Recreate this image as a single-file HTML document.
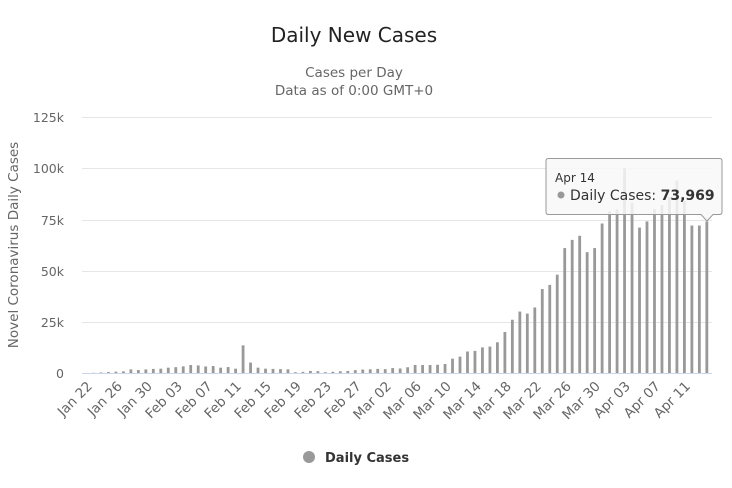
<!DOCTYPE html><html><head><meta charset="utf-8"><style>body{margin:0;background:#fff}svg{display:block;font-family:"DejaVu Sans","Liberation Sans",sans-serif}</style></head><body>
<svg width="732" height="488" viewBox="0 0 732 488">
<text x="354" y="42" text-anchor="middle" font-size="20" fill="#222">Daily New Cases</text>
<text x="354" y="77" text-anchor="middle" font-size="13.5" fill="#666">Cases per Day</text>
<text x="354" y="95" text-anchor="middle" font-size="13.5" fill="#666">Data as of 0:00 GMT+0</text>
<g stroke="#e6e6e6" stroke-width="1">
<line x1="82" x2="712" y1="117.5" y2="117.5"/><line x1="82" x2="712" y1="168.5" y2="168.5"/><line x1="82" x2="712" y1="220.5" y2="220.5"/><line x1="82" x2="712" y1="271.5" y2="271.5"/><line x1="82" x2="712" y1="322.5" y2="322.5"/></g>
<line x1="82" x2="712" y1="373.5" y2="373.5" stroke="#ccd6eb"/>
<g font-size="12.5" fill="#666" text-anchor="end">
<text x="64" y="122">125k</text><text x="64" y="173">100k</text><text x="64" y="225">75k</text><text x="64" y="276">50k</text><text x="64" y="327">25k</text><text x="64" y="378">0</text></g>
<text transform="translate(18,245) rotate(-90)" text-anchor="middle" font-size="13.5" fill="#666">Novel Coronavirus Daily Cases</text>
<g transform="translate(86,373) scale(1,-2.048)" fill="#999">
<rect x="-1.4" width="2.8" height="0"/><rect x="6.08" width="2.8" height="0.1"/><rect x="13.56" width="2.8" height="0.25"/><rect x="21.04" width="2.8" height="0.45"/><rect x="28.52" width="2.8" height="0.65"/><rect x="36" width="2.8" height="0.8"/><rect x="43.48" width="2.8" height="1.75"/><rect x="50.96" width="2.8" height="1.45"/><rect x="58.44" width="2.8" height="1.75"/><rect x="65.92" width="2.8" height="2.0"/><rect x="73.4" width="2.8" height="2.1"/><rect x="80.88" width="2.8" height="2.6"/><rect x="88.36" width="2.8" height="2.85"/><rect x="95.84" width="2.8" height="3.25"/><rect x="103.32" width="2.8" height="3.9"/><rect x="110.8" width="2.8" height="3.7"/><rect x="118.28" width="2.8" height="3.2"/><rect x="125.76" width="2.8" height="3.4"/><rect x="133.24" width="2.8" height="2.6"/><rect x="140.72" width="2.8" height="2.9"/><rect x="148.2" width="2.8" height="2.1"/><rect x="155.68" width="2.8" height="13.5"/><rect x="163.16" width="2.8" height="5.1"/><rect x="170.64" width="2.8" height="2.6"/><rect x="178.12" width="2.8" height="2.1"/><rect x="185.6" width="2.8" height="2.0"/><rect x="193.08" width="2.8" height="1.9"/><rect x="200.56" width="2.8" height="1.8"/><rect x="208.04" width="2.8" height="0.4"/><rect x="215.52" width="2.8" height="0.55"/><rect x="223" width="2.8" height="1.0"/><rect x="230.48" width="2.8" height="0.9"/><rect x="237.96" width="2.8" height="0.4"/><rect x="245.44" width="2.8" height="0.6"/><rect x="252.92" width="2.8" height="0.85"/><rect x="260.4" width="2.8" height="1.0"/><rect x="267.88" width="2.8" height="1.4"/><rect x="275.36" width="2.8" height="1.7"/><rect x="282.84" width="2.8" height="1.8"/><rect x="290.32" width="2.8" height="2.0"/><rect x="297.8" width="2.8" height="1.9"/><rect x="305.28" width="2.8" height="2.4"/><rect x="312.76" width="2.8" height="2.2"/><rect x="320.24" width="2.8" height="2.8"/><rect x="327.72" width="2.8" height="3.9"/><rect x="335.2" width="2.8" height="3.9"/><rect x="342.68" width="2.8" height="3.9"/><rect x="350.16" width="2.8" height="4.0"/><rect x="357.64" width="2.8" height="4.4"/><rect x="365.12" width="2.8" height="7.0"/><rect x="372.6" width="2.8" height="8.0"/><rect x="380.08" width="2.8" height="10.5"/><rect x="387.56" width="2.8" height="10.8"/><rect x="395.04" width="2.8" height="12.5"/><rect x="402.52" width="2.8" height="12.9"/><rect x="410" width="2.8" height="15"/><rect x="417.48" width="2.8" height="20"/><rect x="424.96" width="2.8" height="26"/><rect x="432.44" width="2.8" height="30"/><rect x="439.92" width="2.8" height="29"/><rect x="447.4" width="2.8" height="32"/><rect x="454.88" width="2.8" height="41"/><rect x="462.36" width="2.8" height="43"/><rect x="469.84" width="2.8" height="48"/><rect x="477.32" width="2.8" height="61"/><rect x="484.8" width="2.8" height="65"/><rect x="492.28" width="2.8" height="67"/><rect x="499.76" width="2.8" height="59"/><rect x="507.24" width="2.8" height="61"/><rect x="514.72" width="2.8" height="73"/><rect x="522.2" width="2.8" height="79"/><rect x="529.68" width="2.8" height="80"/><rect x="537.16" width="2.8" height="100"/><rect x="544.64" width="2.8" height="83"/><rect x="552.12" width="2.8" height="71"/><rect x="559.6" width="2.8" height="74"/><rect x="567.08" width="2.8" height="80"/><rect x="574.56" width="2.8" height="82"/><rect x="582.04" width="2.8" height="86"/><rect x="589.52" width="2.8" height="94"/><rect x="597" width="2.8" height="84"/><rect x="604.48" width="2.8" height="72"/><rect x="611.96" width="2.8" height="72"/><rect x="619.44" width="2.8" height="74"/>
</g>
<g font-size="13.5" fill="#666" text-anchor="end">
<text transform="translate(93,387) rotate(-45)">Jan 22</text><text transform="translate(123,387) rotate(-45)">Jan 26</text><text transform="translate(153,387) rotate(-45)">Jan 30</text><text transform="translate(183,387) rotate(-45)">Feb 03</text><text transform="translate(213,387) rotate(-45)">Feb 07</text><text transform="translate(242,387) rotate(-45)">Feb 11</text><text transform="translate(272,387) rotate(-45)">Feb 15</text><text transform="translate(302,387) rotate(-45)">Feb 19</text><text transform="translate(332,387) rotate(-45)">Feb 23</text><text transform="translate(362,387) rotate(-45)">Feb 27</text><text transform="translate(392,387) rotate(-45)">Mar 02</text><text transform="translate(422,387) rotate(-45)">Mar 06</text><text transform="translate(452,387) rotate(-45)">Mar 10</text><text transform="translate(482,387) rotate(-45)">Mar 14</text><text transform="translate(512,387) rotate(-45)">Mar 18</text><text transform="translate(542,387) rotate(-45)">Mar 22</text><text transform="translate(572,387) rotate(-45)">Mar 26</text><text transform="translate(601,387) rotate(-45)">Mar 30</text><text transform="translate(631,387) rotate(-45)">Apr 03</text><text transform="translate(661,387) rotate(-45)">Apr 07</text><text transform="translate(691,387) rotate(-45)">Apr 11</text>
</g>
<path d="M548.5,158.5 H719.5 Q722,158.5 722,161 V212 Q722,214.5 719.5,214.5 H713 L707,221 L701,214.5 H548.5 Q546,214.5 546,212 V161 Q546,158.5 548.5,158.5 Z" fill="rgba(248,248,248,0.85)" stroke="#999" stroke-width="1"/>
<text x="555" y="182" font-size="12" fill="#333">Apr 14</text>
<circle cx="561" cy="195" r="3.5" fill="#999"/>
<text x="570" y="200" font-size="14" fill="#333">Daily Cases: <tspan font-weight="bold">73,969</tspan></text>
<circle cx="309" cy="457" r="6" fill="#999"/>
<text x="325" y="462" font-size="13" font-weight="bold" fill="#333">Daily Cases</text>
</svg></body></html>
